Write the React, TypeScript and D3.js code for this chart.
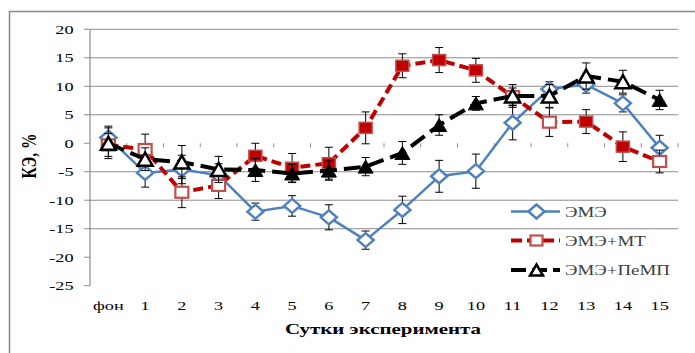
// react
import React, { Component } from 'react';
// d3
import * as d3 from 'd3';

const svgWidth = 695;
const svgHeight = 353;

// plot box
const plotLeft = 90;
const plotRight = 678;
const plotTop = 29.3;
const plotBottom = 285.7;

// the scan is stretched sideways, so text gets the same stretch
const STRETCH = 1.35;
const SERIF = '"Liberation Serif", "Times New Roman", serif';

const categories = ['фон', '1', '2', '3', '4', '5', '6', '7', '8', '9', '10', '11', '12', '13', '14', '15'];
const yTicks = [20, 15, 10, 5, 0, -5, -10, -15, -20, -25];
const gridValues = [20, 15, 10, 5, -5, -10, -15];

const emeValues = [1, -5.2, -4.6, -5.6, -12, -11, -13, -17, -11.7, -5.8, -4.9, 3.6, 9.5, 10.3, 7, -0.8];
const emeErrors = [2, 2.5, 2.5, 2, 1.5, 1.8, 2.2, 1.6, 2.4, 2.8, 3, 3, 1.3, 1.5, 1.5, 2.2];

const mtValues = [-0.3, -1.1, -8.6, -7.4, -2.2, -4.3, -3.5, 2.7, 13.6, 14.6, 12.8, 8.2, 3.7, 3.8, -0.6, -3.2];
const mtErrors = [2, 2.7, 2.7, 2.3, 2.2, 2.5, 2.8, 2.8, 2.1, 2.2, 2.1, 1.5, 2.5, 2.1, 2.6, 2];
const mtFilled = [0, 0, 0, 0, 1, 1, 1, 1, 1, 1, 1, 0, 0, 1, 1, 0];

const pempValues = [0, -2.8, -3.3, -4.6, -4.7, -5.3, -4.8, -4.1, -1.7, 3.2, 7, 8.3, 8.3, 11.8, 10.8, 7.6];
const pempErrors = [2.7, 2, 2.9, 2.3, 2, 1.6, 1.7, 1.6, 2, 1.8, 1.2, 2, 2, 2.3, 2, 1.7];
const pempFilled = [0, 0, 0, 0, 1, 1, 1, 1, 1, 1, 1, 0, 0, 0, 0, 1];

const legendLabels = ['ЭМЭ', 'ЭМЭ+МТ', 'ЭМЭ+ПеМП'];

const BLUE = '#4F81BD';
const RED = '#C00000';
const RED_EDGE = '#C0504D';
const GRID = '#8c8c8c';

const diamondPath = (x, y) => `M${x},${y - 7}L${x + 8},${y}L${x},${y + 7}L${x - 8},${y}Z`;
const trianglePath = (x, y, w, h) =>
    `M${x},${y - h / 2}L${x + w / 2},${y + h / 2}L${x - w / 2},${y + h / 2}Z`;

const stretched = (sel, x, y) =>
    sel.attr('transform', `translate(${x},${y}) scale(${STRETCH},1)`);

class App extends Component {
    svgRef: any = null;

    drawMarker = (g, kind, x, y, filled, legend) => {
        if (kind === 'diamond') {
            g.append('path').attr('d', diamondPath(x, y))
                .attr('fill', '#fff').attr('stroke', BLUE).attr('stroke-width', 2.5);
        } else if (kind === 'square') {
            const w = legend ? 12 : 13, h = legend ? 10 : 11;
            g.append('rect').attr('x', x - w / 2).attr('y', y - h / 2)
                .attr('width', w).attr('height', h)
                .attr('fill', filled ? RED : '#fff')
                .attr('stroke', RED_EDGE).attr('stroke-width', filled ? 1.5 : 2.2);
        } else {
            const w = legend ? 13 : 15, h = legend ? 11 : 13;
            g.append('path').attr('d', trianglePath(x, y, w, h))
                .attr('fill', filled ? '#000' : '#fff')
                .attr('stroke', '#000').attr('stroke-width', filled ? 1 : 2.5)
                .attr('stroke-linejoin', 'miter');
        }
    }

    initChart = () => {
        const svg = d3.select(this.svgRef);
        svg.selectAll('*').remove();

        const x = d3.scaleBand().domain(categories).range([plotLeft, plotRight]);
        const y = d3.scaleLinear().domain([-25, 20]).range([plotBottom, plotTop]);
        const cx = (i) => x(categories[i]) + x.bandwidth() / 2;

        // outer frame (runs off the right and bottom edge)
        svg.append('rect')
            .attr('x', 9.5).attr('y', 11.5)
            .attr('width', 720).attr('height', 360)
            .attr('fill', '#fff').attr('stroke', '#8a8a8a').attr('stroke-width', 1.5);

        // grid
        svg.append('g').selectAll('line').data(gridValues).enter().append('line')
            .attr('x1', plotLeft).attr('x2', plotRight)
            .attr('y1', d => y(d)).attr('y2', d => y(d))
            .attr('stroke', GRID).attr('stroke-width', 1);

        // y axis
        svg.append('line')
            .attr('x1', plotLeft).attr('x2', plotLeft)
            .attr('y1', plotTop).attr('y2', plotBottom)
            .attr('stroke', GRID).attr('stroke-width', 1.2);
        const yAxis = svg.append('g');
        yTicks.forEach(v => {
            yAxis.append('line')
                .attr('x1', plotLeft - 6).attr('x2', plotLeft)
                .attr('y1', y(v)).attr('y2', y(v))
                .attr('stroke', GRID);
            stretched(yAxis.append('text'), 73.5, y(v) + 4.5)
                .attr('text-anchor', 'end')
                .attr('font-family', SERIF).attr('font-size', 13.5)
                .text(v);
        });

        // x axis sits on zero: only the tick marks show
        const xAxis = svg.append('g');
        d3.range(categories.length + 1).forEach(i => {
            const xx = plotLeft + i * x.step();
            if (i === 0) return;
            xAxis.append('line')
                .attr('x1', xx).attr('x2', xx)
                .attr('y1', y(0)).attr('y2', y(0) + 4)
                .attr('stroke', GRID);
        });
        categories.forEach((c, i) => {
            stretched(xAxis.append('text'), cx(i), 310)
                .attr('text-anchor', 'middle')
                .attr('font-family', SERIF).attr('font-size', 13.5)
                .text(c);
        });

        // axis titles
        stretched(svg.append('text'), 383, 333.5)
            .attr('text-anchor', 'middle')
            .attr('font-family', SERIF).attr('font-size', 15.5).attr('font-weight', 'bold')
            .text('Сутки эксперимента');
        svg.append('text')
            .attr('transform', `translate(36,156) scale(${STRETCH},1) rotate(-90)`)
            .attr('text-anchor', 'middle')
            .attr('font-family', SERIF).attr('font-size', 15.5).attr('font-weight', 'bold')
            .text('КЭ, %');

        const series = [
            { values: emeValues, errors: emeErrors, filled: null, kind: 'diamond', color: BLUE, width: 2.5, dash: null },
            { values: mtValues, errors: mtErrors, filled: mtFilled, kind: 'square', color: RED, width: 4, dash: '10,5' },
            { values: pempValues, errors: pempErrors, filled: pempFilled, kind: 'triangle', color: '#000', width: 4, dash: '17,7' },
        ];

        const line = d3.line().x((d, i) => cx(i)).y(d => y(d));

        series.forEach(s => {
            const g = svg.append('g');
            g.append('path')
                .attr('d', line(s.values))
                .attr('fill', 'none')
                .attr('stroke', s.color).attr('stroke-width', s.width)
                .attr('stroke-dasharray', s.dash)
                .attr('stroke-linejoin', 'round');

            // error bars
            s.values.forEach((v, i) => {
                const e = s.errors[i];
                const bx = cx(i);
                g.append('line').attr('x1', bx).attr('x2', bx)
                    .attr('y1', y(v + e)).attr('y2', y(v - e))
                    .attr('stroke', '#000').attr('stroke-width', 1);
                [v + e, v - e].forEach(t => {
                    g.append('line').attr('x1', bx - 4).attr('x2', bx + 4)
                        .attr('y1', y(t)).attr('y2', y(t))
                        .attr('stroke', '#000').attr('stroke-width', 1);
                });
            });

            s.values.forEach((v, i) => {
                this.drawMarker(g, s.kind, cx(i), y(v), s.filled ? s.filled[i] : 0, false);
            });
        });

        // legend
        const legend = svg.append('g');
        const rows = [211.5, 240.5, 270];
        series.forEach((s, i) => {
            legend.append('line')
                .attr('x1', 511).attr('x2', 560)
                .attr('y1', rows[i]).attr('y2', rows[i])
                .attr('stroke', s.color).attr('stroke-width', s.width)
                .attr('stroke-dasharray', s.kind === 'square' ? '11,5' : s.kind === 'triangle' ? '15,6' : null);
            this.drawMarker(legend, s.kind, 536.5, rows[i], 0, true);
            stretched(legend.append('text'), 565, rows[i] + 5)
                .attr('font-family', SERIF).attr('font-size', 14)
                .attr('fill', '#404040')
                .text(legendLabels[i]);
        });
    }

    componentDidMount() {
        this.initChart();
    }

    render() {
        return (
            <svg
                width={svgWidth}
                height={svgHeight}
                style={{ position: 'absolute', left: 0, top: 0, background: '#fff' }}
                ref={el => this.svgRef = el}>
            </svg>
        );
    }
}

export default App;
